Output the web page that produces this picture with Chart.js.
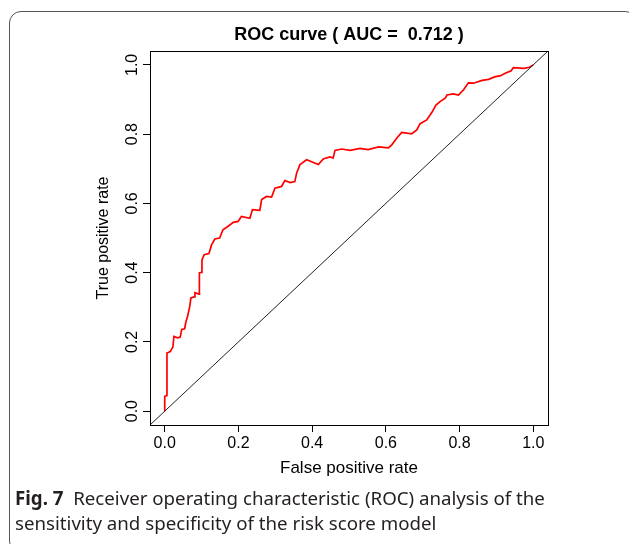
<!DOCTYPE html>
<html>
<head>
<meta charset="utf-8">
<script src="https://cdn.jsdelivr.net/npm/chart.js@4.4.0/dist/chart.umd.min.js"></script>
<style>
    html, body { margin: 0; padding: 0; background: #fff; }
    #wrap { position: relative; width: 629px; height: 544px; overflow: hidden; }
    #frame {
        position: absolute; left: 9px; top: 11px; width: 626px; height: 540px;
        border: 1px solid #555; border-radius: 12px;
    }
    #chart { position: absolute; left: 0; top: 0; }
    #caption {
        position: absolute; left: 15px; top: 485px;
        font-family: "Noto Sans", sans-serif; font-size: 18.7px; line-height: 25px;
        color: #231f20; white-space: nowrap;
    }
</style>
</head>
<body>
<div id="wrap">
    <div id="frame"></div>
    <canvas id="chart" width="629" height="544"></canvas>
    <div id="caption"><b>Fig. 7</b>&nbsp; Receiver operating characteristic (ROC) analysis of the<br>sensitivity and specificity of the risk score model</div>
</div>
<script>
// ROC curve points
const fpr = [0, 0, 0.006, 0.006, 0.015, 0.022, 0.025, 0.035, 0.042, 0.046, 0.054, 0.057, 0.062, 0.068,
    0.071, 0.080, 0.082, 0.093, 0.094, 0.100, 0.101, 0.107, 0.120, 0.127, 0.136, 0.149, 0.158, 0.172,
    0.186, 0.199, 0.208, 0.231, 0.238, 0.258, 0.263, 0.276, 0.290, 0.299, 0.317, 0.326, 0.340, 0.353,
    0.358, 0.367, 0.385, 0.417, 0.430, 0.448, 0.457, 0.462, 0.480, 0.503, 0.530, 0.552, 0.580, 0.607,
    0.616, 0.630, 0.643, 0.670, 0.684, 0.693, 0.711, 0.725, 0.736, 0.747, 0.761, 0.766, 0.783, 0.797,
    0.811, 0.824, 0.838, 0.861, 0.879, 0.897, 0.910, 0.924, 0.940, 0.946, 0.974, 0.990, 1.0];
const tpr = [0, 0.043, 0.045, 0.168, 0.172, 0.185, 0.216, 0.212, 0.214, 0.236, 0.238, 0.256, 0.274, 0.303,
    0.327, 0.330, 0.342, 0.338, 0.399, 0.401, 0.437, 0.452, 0.455, 0.480, 0.497, 0.500, 0.524, 0.534,
    0.545, 0.548, 0.562, 0.557, 0.582, 0.580, 0.611, 0.620, 0.618, 0.644, 0.649, 0.666, 0.660, 0.663,
    0.688, 0.712, 0.726, 0.712, 0.728, 0.734, 0.731, 0.753, 0.757, 0.753, 0.759, 0.755, 0.763, 0.760,
    0.769, 0.789, 0.805, 0.801, 0.812, 0.830, 0.841, 0.863, 0.884, 0.894, 0.904, 0.913, 0.916, 0.913,
    0.928, 0.948, 0.947, 0.955, 0.958, 0.966, 0.968, 0.976, 0.983, 0.992, 0.990, 0.993, 1.0];

const tickValues = [0, 0.2, 0.4, 0.6, 0.8, 1.0];
const axisMin = -0.04;
const axisMax = 1.04;
const titleText = 'ROC curve ( AUC =  0.712 )';

const rFont = '"Liberation Sans", Arial, sans-serif';

// y tick labels in R are rotated, Chart.js can't rotate them on a vertical axis
const yTickLabels = {
    id: 'yTickLabels',
    afterDraw(chart) {
        const ctx = chart.ctx;
        const y = chart.scales.y;
        ctx.save();
        ctx.font = '16px ' + rFont;
        ctx.fillStyle = '#000';
        ctx.textAlign = 'center';
        ctx.textBaseline = 'middle';
        tickValues.forEach(v => {
            ctx.save();
            ctx.translate(y.right - 17, y.getPixelForValue(v));
            ctx.rotate(-Math.PI / 2);
            ctx.fillText(v.toFixed(1), 0, 0);
            ctx.restore();
        });
        ctx.restore();
    }
};

// box around the plot region
const plotBox = {
    id: 'plotBox',
    afterDraw(chart) {
        const a = chart.chartArea;
        const ctx = chart.ctx;
        ctx.save();
        ctx.strokeStyle = '#000';
        ctx.lineWidth = 1;
        ctx.strokeRect(a.left + 0.5, a.top + 0.5, a.right - a.left, a.bottom - a.top);
        ctx.restore();
    }
};

new Chart(document.getElementById('chart'), {
    type: 'scatter',
    data: {
        datasets: [{
            label: 'diagonal',
            data: [{x: axisMin, y: axisMin}, {x: axisMax, y: axisMax}],
            showLine: true,
            borderColor: '#222',
            borderWidth: 1,
            pointRadius: 0
        }, {
            label: 'ROC',
            data: fpr.map((v, i) => ({x: v, y: tpr[i]})),
            showLine: true,
            borderColor: '#ff0000',
            borderWidth: 1.7,
            pointRadius: 0,
            tension: 0
        }]
    },
    options: {
        responsive: false,
        animation: false,
        layout: {
            padding: {left: 0, top: 0, right: 81, bottom: 0}
        },
        plugins: {
            legend: {display: false},
            tooltip: {enabled: false},
            title: {
                display: true,
                text: titleText,
                fullSize: false,
                color: '#000',
                font: {family: rFont, size: 18, weight: 'bold', lineHeight: 1},
                padding: {top: 26, bottom: 7}
            }
        },
        scales: {
            x: {
                type: 'linear',
                min: axisMin,
                max: axisMax,
                afterBuildTicks: s => { s.ticks = tickValues.map(v => ({value: v})); },
                afterFit: s => { s.height = 119; },
                border: {display: false},
                grid: {drawOnChartArea: false, drawTicks: true, tickLength: 7, color: '#000'},
                ticks: {
                    color: '#000',
                    padding: 2,
                    maxRotation: 0,
                    font: {family: rFont, size: 16},
                    callback: v => v.toFixed(1)
                },
                title: {
                    display: true,
                    text: 'False positive rate',
                    color: '#000',
                    font: {family: rFont, size: 17, lineHeight: 1},
                    padding: {top: 0, bottom: 67}
                }
            },
            y: {
                type: 'linear',
                min: axisMin,
                max: axisMax,
                afterBuildTicks: s => { s.ticks = tickValues.map(v => ({value: v})); },
                afterFit: s => { s.width = 150; },
                border: {display: false},
                grid: {drawOnChartArea: false, drawTicks: true, tickLength: 7, color: '#000'},
                ticks: {display: false},
                title: {
                    display: true,
                    text: 'True positive rate',
                    color: '#000',
                    font: {family: rFont, size: 16, lineHeight: 1},
                    padding: {top: 96, bottom: 0}
                }
            }
        }
    },
    plugins: [yTickLabels, plotBox]
});
</script>
</body>
</html>
